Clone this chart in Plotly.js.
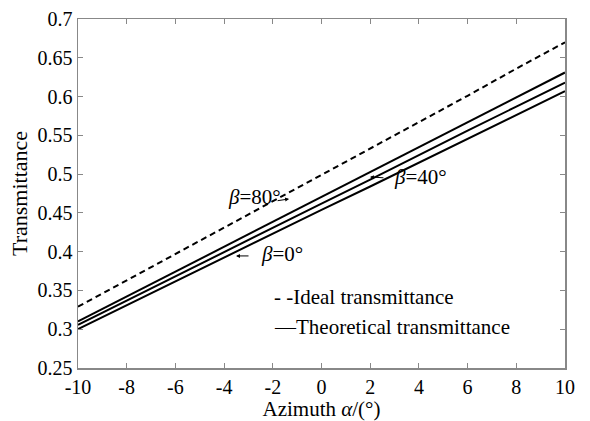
<!DOCTYPE html>
<html>
<head>
<meta charset="utf-8">
<script src="https://cdn.plot.ly/plotly-3.0.1.min.js"></script>
<style>html,body{margin:0;padding:0;background:#fff;}#chart{width:590px;height:421px;}</style>
</head>
<body>
<div id="chart"></div>
<script>
const azimuth = [-10, -8, -6, -4, -2, 0, 2, 4, 6, 8, 10];
const idealT = [0.329, 0.363, 0.397, 0.431, 0.465, 0.498, 0.532, 0.566, 0.601, 0.636, 0.670];
const theoBeta80 = [0.310, 0.342, 0.374, 0.406, 0.438, 0.470, 0.502, 0.535, 0.567, 0.599, 0.631];
const theoBeta40 = [0.3055, 0.337, 0.368, 0.400, 0.431, 0.462, 0.493, 0.525, 0.556, 0.587, 0.618];
const theoBeta0 = [0.300, 0.331, 0.361, 0.392, 0.423, 0.454, 0.484, 0.515, 0.546, 0.576, 0.607];
const xTicks = [-10, -8, -6, -4, -2, 0, 2, 4, 6, 8, 10];
const xTickText = ['-10', '-8', '-6', '-4', '-2', '0', '2', '4', '6', '8', '10'];
const yTicks = [0.25, 0.3, 0.35, 0.4, 0.45, 0.5, 0.55, 0.6, 0.65, 0.7];
const yTickText = ['0.25', '0.3', '0.35', '0.4', '0.45', '0.5', '0.55', '0.6', '0.65', '0.7'];

const font = 'Liberation Serif, Times New Roman, serif';
const lineStyle = {color: '#000', width: 2};

const traces = [
  {x: azimuth, y: idealT, mode: 'lines', name: 'Ideal transmittance', line: {color: '#000', width: 2, dash: '6px,4px'}},
  {x: azimuth, y: theoBeta80, mode: 'lines', name: 'β=80°', line: lineStyle},
  {x: azimuth, y: theoBeta40, mode: 'lines', name: 'β=40°', line: lineStyle},
  {x: azimuth, y: theoBeta0, mode: 'lines', name: 'β=0°', line: lineStyle}
];

const axisCommon = {
  showgrid: false, zeroline: false, showline: true, linecolor: '#888', linewidth: 1.5,
  mirror: 'ticks', ticks: 'inside', ticklen: 5, tickcolor: '#888', tickwidth: 1,
  tickfont: {family: font, size: 20, color: '#000'}
};

const annText = (txt, x, y, anchor) => ({text: txt, x: x, y: y, xref: 'x', yref: 'y', showarrow: false,
  xanchor: anchor || 'center', yanchor: 'middle', font: {family: font, size: 21, color: '#000'}});
const annArrow = (x, y, ax, ay) => ({text: '', x: x, y: y, xref: 'x', yref: 'y', ax: ax, ay: ay,
  showarrow: true, arrowhead: 2, arrowsize: 0.8, arrowwidth: 1, arrowcolor: '#000'});

const layout = {
  width: 590, height: 421,
  margin: {l: 78, r: 25, t: 19, b: 53},
  paper_bgcolor: '#fff', plot_bgcolor: '#fff',
  showlegend: false,
  xaxis: Object.assign({}, axisCommon, {range: [-10, 10], tickvals: xTicks, ticktext: xTickText,
    title: {text: 'Azimuth <i>α</i>/(°)', font: {family: font, size: 21, color: '#000'}, standoff: 4}}),
  yaxis: Object.assign({}, axisCommon, {range: [0.25, 0.7], tickvals: yTicks, ticktext: yTickText,
    title: {text: 'Transmittance', font: {family: font, size: 22, color: '#000'}, standoff: 4}}),
  annotations: [
    annText('<i>β</i>=80°', -2.75, 0.471),
    annArrow(-1.33, 0.468, -13, 2),
    annText('<i>β</i>=40°', 4.05, 0.496),
    annArrow(1.99, 0.4964, 15, 1),
    annText('<i>β</i>=0°', -1.62, 0.397),
    annArrow(-3.51, 0.3945, 14, 0),
    annText('- -Ideal transmittance', -2.05, 0.3417, 'left'),
    annText('—Theoretical transmittance', -2.05, 0.303, 'left')
  ]
};

Plotly.newPlot('chart', traces, layout, {displayModeBar: false, staticPlot: true});
</script>
</body>
</html>
